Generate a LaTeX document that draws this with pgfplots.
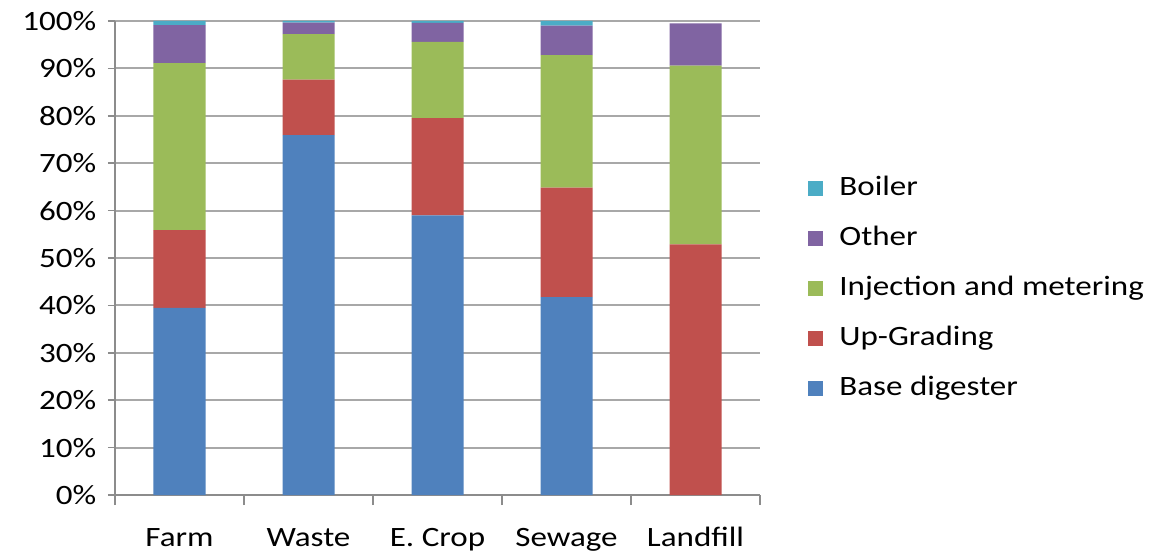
\documentclass[border=0pt]{standalone}
\usepackage{pgfplots}
\pgfplotsset{compat=1.18}
\usepackage{fontspec}
\setmainfont[FakeStretch=1.18]{Carlito}
\definecolor{cBase}{HTML}{4F81BD}
\definecolor{cUp}{HTML}{C0504D}
\definecolor{cInj}{HTML}{9BBB59}
\definecolor{cOther}{HTML}{8064A2}
\definecolor{cBoiler}{HTML}{4BACC6}
\definecolor{axisgray}{HTML}{8C8C8C}
\definecolor{gridgray}{HTML}{A8A8A8}
\begin{document}
\fontsize{14}{17}\selectfont
\begin{tikzpicture}
\begin{axis}[
  name=ax,
  scale only axis,
  width=322.5pt, height=237pt,
  ybar stacked,
  bar width=26pt,
  xmin=-0.5, xmax=4.5,
  ymin=0, ymax=100,
  xtick={0,1,2,3,4},
  xticklabels={Farm,Waste,E. Crop,Sewage,Landfill},
  minor xtick={-0.5,0.5,1.5,2.5,3.5,4.5},
  ytick={0,10,...,100},
  yticklabels={0\%,10\%,20\%,30\%,40\%,50\%,60\%,70\%,80\%,90\%,100\%},
  axis x line*=bottom,
  axis y line*=left,
  axis line style={axisgray, line width=1pt, -},
  tick align=outside,
  major tick length=3.5pt,
  minor tick length=5pt,
  x tick style={draw=none},
  minor x tick style={draw=axisgray, line width=0.8pt},
  y tick style={draw=axisgray, line width=0.8pt},
  ymajorgrids,
  grid style={gridgray, line width=1pt},
  xticklabel style={anchor=base, text height=10pt, text depth=3pt, yshift=-22pt},
  yticklabel style={xshift=-1pt},
  reverse legend,
  legend cell align=left,
  legend image code/.code={\fill[#1] (0pt,-3.75pt) rectangle (7.5pt,3.75pt);},
  legend style={draw=none, fill=none, at={(rel axis cs:1.0744,0.435)}, anchor=west,
    inner sep=0pt, row sep=12pt, column sep=8pt,
    nodes={inner sep=0pt, text height=10pt, text depth=3pt}},
]
\addplot[fill=cBase, draw=none] coordinates {(0,39.5) (1,75.9) (2,59.0) (3,41.75) (4,0)};
\addplot[fill=cUp, draw=none] coordinates {(0,16.4) (1,11.75) (2,20.5) (3,23.1) (4,52.9)};
\addplot[fill=cInj, draw=none] coordinates {(0,35.2) (1,9.6) (2,16.1) (3,27.95) (4,37.7)};
\addplot[fill=cOther, draw=none] coordinates {(0,8.05) (1,2.4) (2,4.0) (3,6.2) (4,8.9)};
\addplot[fill=cBoiler, draw=none] coordinates {(0,0.85) (1,0.35) (2,0.4) (3,1.0) (4,0)};
\legend{Base digester,Up-Grading,Injection and metering,Other,Boiler}
\end{axis}
\pgfresetboundingbox
\path ([xshift=-57.5pt,yshift=-28.5pt]ax.south west) rectangle ([xshift=198.5pt,yshift=10.5pt]ax.north east);
\end{tikzpicture}
\end{document}
